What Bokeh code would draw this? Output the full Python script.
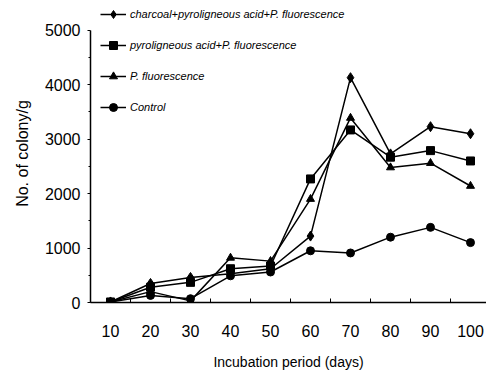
from bokeh.plotting import figure
from bokeh.models import FixedTicker, Legend, LegendItem, Range1d
from bokeh.embed import file_html
from bokeh.resources import INLINE

days = [10, 20, 30, 40, 50, 60, 70, 80, 90, 100]
charcoal = [10, 350, 460, 530, 620, 1220, 4130, 2730, 3230, 3100]
pyro = [10, 280, 370, 620, 670, 2270, 3170, 2670, 2790, 2600]
fluor = [10, 200, 30, 820, 760, 1900, 3390, 2480, 2560, 2140]
control = [10, 130, 70, 490, 560, 950, 910, 1200, 1380, 1100]

x_ticks = days
x_minor = [5, 15, 25, 35, 45, 55, 65, 75, 85, 95, 105]
y_ticks = [0, 1000, 2000, 3000, 4000, 5000]
y_minor = [500, 1500, 2500, 3500, 4500]

FONT = "Liberation Sans Narrow, Liberation Sans, Arial, sans-serif"

p = figure(width=486, height=372, output_backend="svg", toolbar_location=None,
           x_range=Range1d(5, 104), y_range=Range1d(0, 5474),
           min_border_left=90, min_border_top=4, min_border_bottom=68, min_border_right=0)
p.outline_line_color = None
p.xgrid.visible = False
p.ygrid.visible = False

p.xaxis.ticker = FixedTicker(ticks=x_ticks, minor_ticks=x_minor)
p.yaxis.ticker = FixedTicker(ticks=y_ticks, minor_ticks=y_minor)
p.yaxis.bounds = (0, 5000)

for ax in (p.xaxis[0], p.yaxis[0]):
    ax.axis_line_color = "black"
    ax.axis_line_width = 1.5
    ax.major_label_text_font = FONT
    ax.major_label_text_font_size = "16px"
    ax.major_label_text_color = "black"
    ax.axis_label_text_font = FONT
    ax.axis_label_text_font_style = "normal"
    ax.axis_label_text_color = "black"

p.xaxis.major_tick_line_color = None
p.xaxis.minor_tick_in = 4
p.xaxis.minor_tick_out = 0
p.xaxis.minor_tick_line_color = "black"
p.xaxis.major_label_standoff = 16
p.xaxis.axis_label = "Incubation period (days)"
p.xaxis.axis_label_text_font_size = "14px"
p.xaxis.axis_label_standoff = 14

p.yaxis.major_tick_in = 0
p.yaxis.major_tick_out = 3
p.yaxis.minor_tick_in = 0
p.yaxis.minor_tick_out = 2
p.yaxis.major_label_standoff = 7
p.yaxis.axis_label = "No. of colony/g"
p.yaxis.axis_label_text_font_size = "16px"
p.yaxis.axis_label_standoff = 11

lw = 1.5
l1 = p.line(days, charcoal, line_color="black", line_width=lw)
m1 = p.scatter(days, charcoal, marker="diamond", size=10, color="black")
l2 = p.line(days, pyro, line_color="black", line_width=lw)
m2 = p.scatter(days, pyro, marker="square", size=8, color="black")
l3 = p.line(days, fluor, line_color="black", line_width=lw)
m3 = p.scatter(days, fluor, marker="triangle", size=8, color="black")
l4 = p.line(days, control, line_color="black", line_width=lw)
m4 = p.scatter(days, control, marker="circle", size=8, color="black")

legend = Legend(items=[
    LegendItem(label="charcoal+pyroligneous acid+P. fluorescence", renderers=[l1, m1]),
    LegendItem(label="pyroligneous acid+P. fluorescence", renderers=[l2, m2]),
    LegendItem(label="P. fluorescence", renderers=[l3, m3]),
    LegendItem(label="Control", renderers=[l4, m4]),
], location=(10, 185))
legend.border_line_color = None
legend.background_fill_alpha = 0
legend.padding = 0
legend.margin = 0
legend.spacing = 11
legend.glyph_width = 26
legend.glyph_height = 20
legend.label_height = 20
legend.label_standoff = 4
legend.label_text_font = FONT
legend.label_text_font_style = "italic"
legend.label_text_font_size = "11px"
legend.label_text_color = "black"
p.add_layout(legend, "center")

open("out.html", "w").write(file_html(p, INLINE))
